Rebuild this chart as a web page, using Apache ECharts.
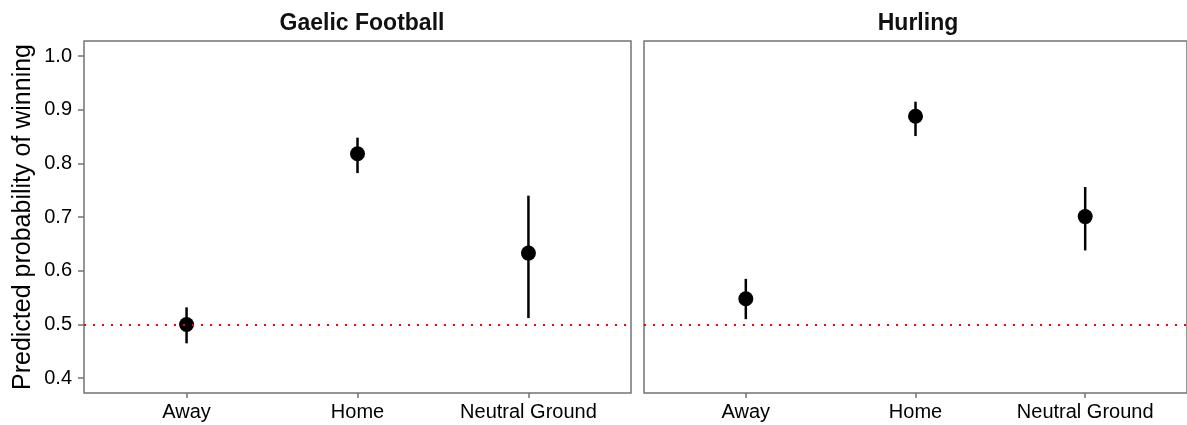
<!DOCTYPE html>
<html>
<head>
<meta charset="utf-8">
<script src="https://cdn.jsdelivr.net/npm/echarts@6/dist/echarts.min.js"></script>
<style>
  html, body { margin: 0; padding: 0; background: #fff; }
  #main { width: 1187px; height: 425px; }
</style>
</head>
<body>
<div id="main"></div>
<script>
// ---- data
var categories = ["Away", "Home", "Neutral Ground"];
var panels = ["Gaelic Football", "Hurling"];
var gaelicEst = [0.500, 0.818, 0.633];
var gaelicLow = [0.465, 0.782, 0.512];
var gaelicHigh = [0.532, 0.848, 0.740];
var hurlingEst = [0.548, 0.888, 0.701];
var hurlingLow = [0.510, 0.851, 0.638];
var hurlingHigh = [0.585, 0.915, 0.756];
var yTicks = [0.4, 0.5, 0.6, 0.7, 0.8, 0.9, 1.0];
var refLine = 0.5;

var grey = "#737373";
var font = "Liberation Sans, Arial, Helvetica, sans-serif";

function xAxisFor(idx) {
    return {
        type: "value",
        gridIndex: idx,
        min: 0.4,
        max: 3.6,
        axisLine: { show: false },
        splitLine: { show: false },
        axisTick: { show: true, customValues: [1, 2, 3], length: 5, lineStyle: { color: grey, width: 1.5 } },
        axisLabel: {
            customValues: [1, 2, 3],
            margin: 9,
            fontSize: 20,
            fontFamily: font,
            color: "#000",
            formatter: function (v) { return categories[Math.round(v) - 1] || ""; }
        }
    };
}

function yAxisFor(idx) {
    return {
        type: "value",
        gridIndex: idx,
        min: 0.3725,
        max: 1.028,
        name: idx === 0 ? "Predicted probability of winning" : "",
        nameLocation: "middle",
        nameGap: 48,
        nameTextStyle: { fontSize: 25, fontFamily: font, color: "#000" },
        axisLine: { show: false },
        splitLine: { show: false },
        axisTick: { show: idx === 0, customValues: yTicks, length: 6, lineStyle: { color: grey, width: 1.5 } },
        axisLabel: {
            show: idx === 0,
            customValues: yTicks,
            margin: 12,
            fontSize: 20,
            fontFamily: font,
            color: "#000",
            formatter: function (v) { return v.toFixed(1); }
        }
    };
}

function toPoints(est) {
    return est.map(function (v, i) { return [i + 1, v]; });
}
function toBars(low, high) {
    return low.map(function (v, i) { return [i + 1, v, high[i]]; });
}

function errorSeries(idx, low, high) {
    return {
        type: "custom",
        xAxisIndex: idx,
        yAxisIndex: idx,
        data: toBars(low, high),
        renderItem: function (params, api) {
            var a = api.coord([api.value(0), api.value(1)]);
            var b = api.coord([api.value(0), api.value(2)]);
            return {
                type: "line",
                shape: { x1: a[0], y1: a[1], x2: b[0], y2: b[1] },
                style: { stroke: "#000", lineWidth: 2.5 }
            };
        },
        z: 2
    };
}

function pointSeries(idx, est) {
    return {
        type: "scatter",
        xAxisIndex: idx,
        yAxisIndex: idx,
        data: toPoints(est),
        symbol: "circle",
        symbolSize: 15,
        itemStyle: { color: "#000", opacity: 1 },
        z: 3,
        markLine: {
            silent: true,
            symbol: "none",
            label: { show: false },
            lineStyle: { color: "#ff0000", type: [2, 7], width: 2, opacity: 1 },
            data: [{ yAxis: refLine }]
        }
    };
}

var myChart = echarts.init(document.getElementById("main"), null, { renderer: "canvas" });

var option = {
    backgroundColor: "#fff",
    animation: false,
    title: [
        { text: panels[0], left: 357, top: 7, textAlign: "center",
          textStyle: { fontSize: 23, fontWeight: "bold", fontFamily: font, color: "#111" } },
        { text: panels[1], left: 913, top: 7, textAlign: "center",
          textStyle: { fontSize: 23, fontWeight: "bold", fontFamily: font, color: "#111" } }
    ],
    grid: [
        { left: 84, right: 556, top: 41, bottom: 32, show: true, borderColor: grey, borderWidth: 1.5, backgroundColor: "#fff" },
        { left: 644, right: -5, top: 41, bottom: 32, show: true, borderColor: grey, borderWidth: 1.5, backgroundColor: "#fff" }
    ],
    xAxis: [xAxisFor(0), xAxisFor(1)],
    yAxis: [yAxisFor(0), yAxisFor(1)],
    series: [
        errorSeries(0, gaelicLow, gaelicHigh),
        pointSeries(0, gaelicEst),
        errorSeries(1, hurlingLow, hurlingHigh),
        pointSeries(1, hurlingEst)
    ]
};

myChart.setOption(option);
</script>
</body>
</html>
